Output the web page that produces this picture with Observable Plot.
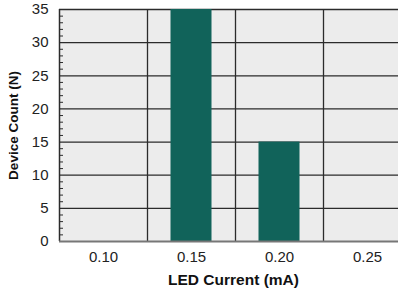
<!DOCTYPE html>
<html><head><meta charset="utf-8">
<script src="https://cdn.jsdelivr.net/npm/d3@7"></script>
<script src="https://cdn.jsdelivr.net/npm/@observablehq/plot@0.6"></script>
<style>
body{margin:0;background:#fff;}
#chart svg{display:block;overflow:hidden}
</style>
</head><body><div id="chart"></div>
<script>
const currents = ["0.10", "0.15", "0.20", "0.25"];
const counts = [0, 35, 15, 0];
const yTicks = [0, 5, 10, 15, 20, 25, 30, 35];
const yMinorTicks = [1,2,3,4,6,7,8,9,11,12,13,14,16,17,18,19,21,22,23,24,26,27,28,29,31,32,33,34];
const xTitle = "LED Current (mA)";
const yTitle = "Device Count (N)";

const data = currents.map((c, i) => ({current: c, count: counts[i]}));

const W = 398, H = 291, mL = 59, mT = 9, mB = 50;
const bandW = 88;
const gridColor = "#2b2b2b";

const chart = Plot.plot({
  width: W, height: H,
  marginLeft: mL, marginTop: mT, marginBottom: mB, marginRight: 0,
  style: {fontFamily: "'Liberation Sans', Arial, Helvetica, sans-serif", background: "#fff", color: "#222"},
  x: {type: "band", domain: currents, range: [mL, mL + bandW * currents.length], padding: 0},
  y: {domain: [0, 35], range: [H - mB, mT]},
  marks: [
    Plot.frame({fill: "#ececec", stroke: null}),
    Plot.ruleY(yTicks.filter(d => d > 0), {stroke: gridColor, strokeWidth: 1.3}),
    Plot.ruleX(currents.slice(1), {x: d => d, stroke: gridColor, strokeWidth: 1.3, dx: -bandW / 2}),
    Plot.barY(data, {x: "current", y: "count", fill: "#11635a", insetLeft: 23.5, insetRight: 23.5}),
    Plot.tickY(yMinorTicks, {y: d => d, stroke: gridColor, strokeWidth: 1, insetRight: W - mL - 4}),
    Plot.ruleX([currents[0]], {x: d => d, stroke: gridColor, strokeWidth: 1.5, dx: -bandW / 2}),
    Plot.ruleY([0], {stroke: "#777", strokeWidth: 2}),
    Plot.axisY({ticks: yTicks, tickSize: 0, tickPadding: 11, fontSize: 15, label: null}),
    Plot.axisX({tickSize: 0, tickPadding: 10, fontSize: 15, label: null}),
    Plot.text([yTitle], {text: d => d, frameAnchor: "left", textAnchor: "middle", lineAnchor: "middle", rotate: -90, dx: -46, fontSize: 13.5, fontWeight: "bold", fill: "#111"}),
    Plot.text([xTitle], {text: d => d, frameAnchor: "bottom", textAnchor: "middle", lineAnchor: "middle", dy: 39, dx: 4.5, fontSize: 15.5, fontWeight: "bold", fill: "#111"})
  ]
});
document.getElementById("chart").appendChild(chart);
</script>
</body></html>
